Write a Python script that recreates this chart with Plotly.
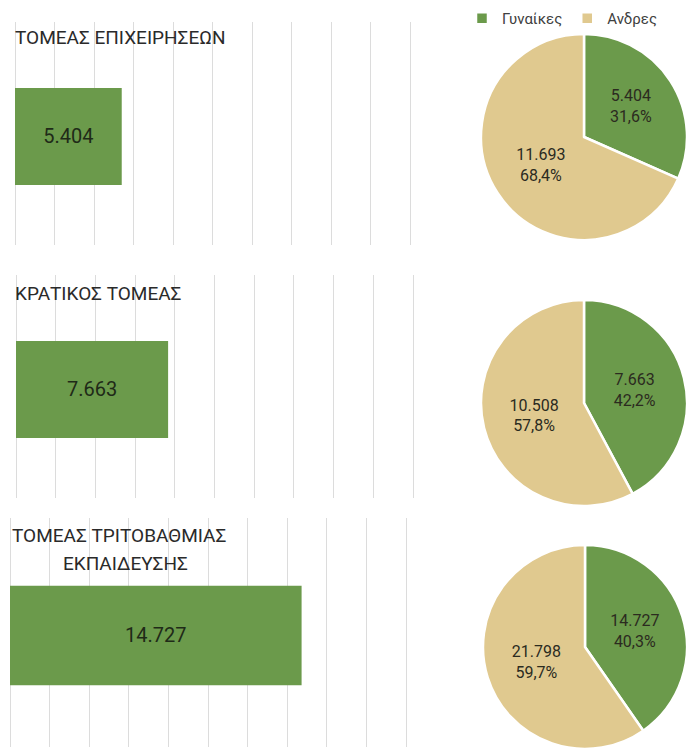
import plotly.graph_objs as go

# researchers by sector and gender
sectors = ["ΤΟΜΕΑΣ ΕΠΙΧΕΙΡΗΣΕΩΝ", "ΚΡΑΤΙΚΟΣ ΤΟΜΕΑΣ", "ΤΟΜΕΑΣ ΤΡΙΤΟΒΑΘΜΙΑΣ|ΕΚΠΑΙΔΕΥΣΗΣ"]
women = [5404, 7663, 14727]
men = [11693, 10508, 21798]
genders = ["Γυναίκες", "Ανδρες"]

GREEN = "#6b9a4b"
TAN = "#e0c98f"
W, H = 687, 749

# plot areas of the bar panels, in pixels (x0, x1, y0, y1)
bar_boxes = [(15, 410, 22, 245), (16, 413, 275, 498), (10, 406, 518, 747)]
# pie boxes in pixels (x0, y0, y1)
pie_boxes = [(481, 34, 240), (481, 300, 506), (483, 545, 749)]

fig = go.Figure()

for i, (x0, x1, y0, y1) in enumerate(bar_boxes):
    n = "" if i == 0 else str(i + 1)
    fig.add_trace(go.Bar(
        x=[women[i]], y=[0], orientation="h",
        width=0.435, marker=dict(color=GREEN, line=dict(width=0)),
        texttemplate="%{x:,}", textposition="inside", insidetextanchor="middle",
        textfont=dict(size=20, color="#1f2a18", family="Roboto"),
        xaxis="x" + n, yaxis="y" + n, showlegend=False, hoverinfo="skip",
    ))
    # pad the range a hair so the 0 and 20000 gridlines are still drawn
    pad = 20000 * 1.5 / (x1 - x0)
    fig.update_layout(**{
        "xaxis" + n: dict(domain=[(x0 - 1.5) / W, (x1 + 1.5) / W], range=[-pad, 20000 + pad],
                          tickvals=list(range(0, 20001, 2000)),
                          showgrid=True, gridcolor="#dcdcdc", gridwidth=1,
                          zeroline=False, showticklabels=False, ticks="",
                          anchor="y" + n, fixedrange=True),
        "yaxis" + n: dict(domain=[1 - y1 / H, 1 - y0 / H], range=[-0.487, 0.513],
                          showgrid=False, zeroline=False, showticklabels=False,
                          anchor="x" + n, fixedrange=True),
    })

for i, (px0, y0, y1) in enumerate(pie_boxes):
    fig.add_trace(go.Pie(
        labels=genders, values=[women[i], men[i]],
        domain=dict(x=[px0 / W, 1.0], y=[1 - y1 / H, 1 - y0 / H]),
        sort=False, direction="clockwise", rotation=0,
        marker=dict(colors=[GREEN, TAN], line=dict(color="white", width=2.5)),
        texttemplate="%{value:,}<br>%{percent:.1%}", textposition="inside",
        insidetextorientation="horizontal",
        textfont=dict(size=16, color="#2b2b1f", family="Roboto"),
        showlegend=(i == 0), hoverinfo="skip",
    ))

title_font = dict(size=19, color="#2a2a2a", family="Roboto")
t1, t2, t3 = sectors
l3a, l3b = t3.split("|")
annotations = [
    dict(text=t1, x=13 / W, y=1 - 38 / H, xanchor="left", yanchor="middle"),
    dict(text=t2, x=13 / W, y=1 - 293 / H, xanchor="left", yanchor="middle"),
    dict(text=l3a, x=10 / W, y=1 - 535 / H, xanchor="left", yanchor="middle"),
    dict(text=l3b, x=125 / W, y=1 - 563 / H, xanchor="center", yanchor="middle"),
]
for a in annotations:
    a.update(xref="paper", yref="paper", showarrow=False, font=title_font)

fig.update_layout(
    width=W, height=H,
    margin=dict(l=0, r=0, t=0, b=0),
    paper_bgcolor="white", plot_bgcolor="white",
    separators=",.",
    annotations=annotations,
    legend=dict(orientation="h", x=462 / W, y=1 - 2 / H, xanchor="left", yanchor="top",
                font=dict(size=15, color="#404040", family="Roboto"),
                itemwidth=30, bgcolor="rgba(0,0,0,0)"),
)

# drop the browser's default 8px body margin so the figure fills the window
fig.write_html("out.html", config={"displayModeBar": False},
               post_script="document.body.style.margin='0';")
